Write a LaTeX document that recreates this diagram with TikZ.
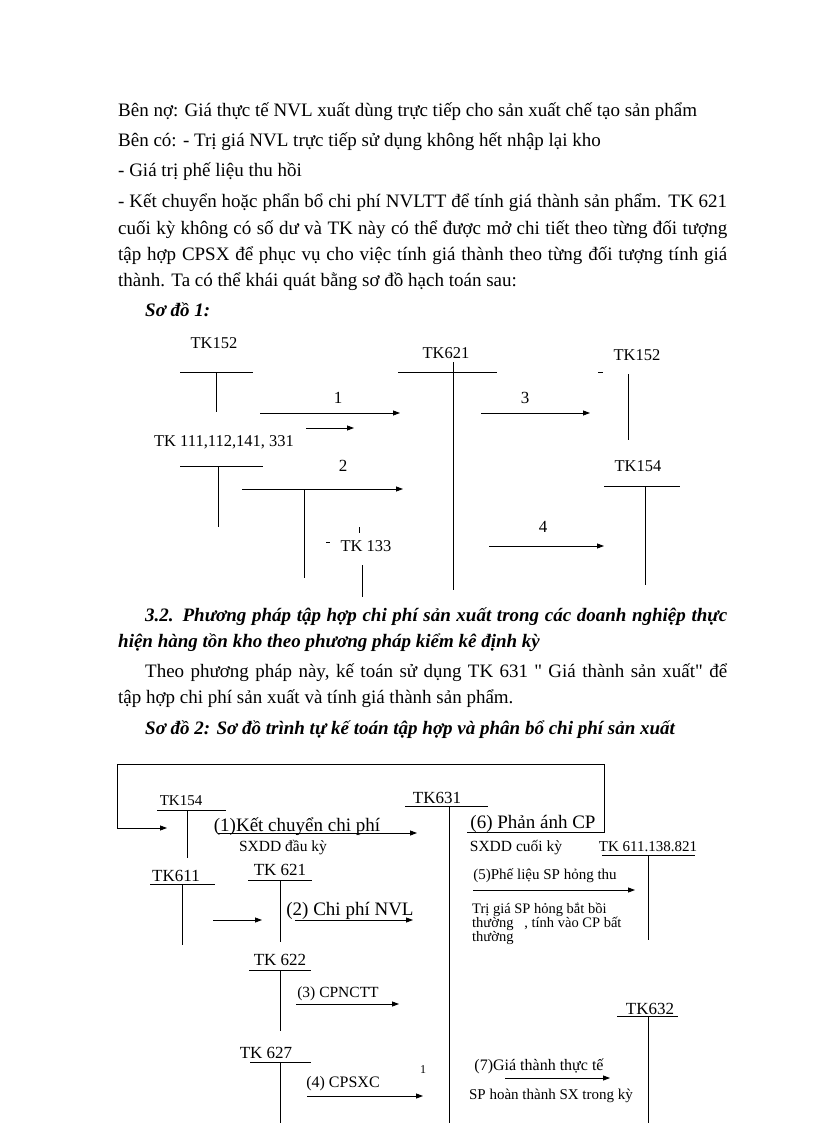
\documentclass[tikz,border=0pt]{standalone}
\usepackage{fontspec}
\setmainfont{Liberation Serif}
\newfontfamily\qfont{Liberation Serif}
\usetikzlibrary{arrows.meta}
\newcommand\fsz[1]{\fontsize{#1}{#1}\selectfont}
\newcommand\sq{{\qfont"}}
\tikzset{
  txt/.style={inner sep=0pt, anchor=base west, font=\fsz{19}},
  lbl/.style={inner sep=0pt, anchor=base},
  lblw/.style={inner sep=0pt, anchor=base west},
  acc/.style={line width=0.8pt},
  arr/.style={line width=0.8pt, -{Triangle[length=7pt,width=5pt]}},
}
\begin{document}
\begin{tikzpicture}[x=1pt,y=-1pt]
\useasboundingbox (0,0) rectangle (816,1123);
% ---------- text ----------
\node[txt] (p1) at (118,117) {Bên nợ: Giá thực tế NVL xuất dùng trực tiếp cho sản xuất chế tạo sản phẩm};
\node[txt] (p2) at (118,147) {Bên có: - Trị giá NVL trực tiếp sử dụng không hết nhập lại kho};
\node[txt] (p3) at (118,177) {- Giá trị phế liệu thu hồi};
\node[txt] (p4) at (118,208) {\makebox[609pt][s]{- Kết chuyển hoặc phẩn bổ chi phí NVLTT để tính giá thành sản phẩm. TK 621}};
\node[txt] (p5) at (118,234) {\makebox[609pt][s]{cuối kỳ không có số dư và TK này có thể được mở chi tiết theo từng đối tượng}};
\node[txt] (p6) at (118,260) {\makebox[609pt][s]{tập hợp CPSX để phục vụ cho việc tính giá thành theo từng đối tượng tính giá}};
\node[txt] (p7) at (118,286) {thành. Ta có thể khái quát bằng sơ đồ hạch toán sau:};
\node[txt] (s1) at (145,316) {\bfseries\itshape Sơ đồ 1:};
\node[txt] (h1) at (145,621) {\bfseries\itshape\makebox[582pt][s]{3.2. Phương pháp tập hợp chi phí sản xuất trong các doanh nghiệp thực}};
\node[txt] (h2) at (118,647) {\bfseries\itshape hiện hàng tồn kho theo phương pháp kiểm kê định kỳ};
\node[txt] (q1) at (145,677) {\makebox[582pt][s]{Theo phương pháp này, kế toán sử dụng TK 631 \sq{} Giá thành sản xuất\sq{} để}};
\node[txt] (q2) at (118,703) {tập hợp chi phí sản xuất và tính giá thành sản phẩm.};
\node[txt] (s2) at (145,734) {\bfseries\itshape Sơ đồ 2: Sơ đồ trình tự kế toán tập hợp và phân bổ chi phí sản xuất};

% ---------- diagram 1 ----------
\begin{scope}[font=\fsz{16.5}]
\node[lbl] (a152) at (214,348) {TK152};
\coordinate (a152l) at (180,372); \coordinate (a152r) at (253,372);
\coordinate (a152t) at (216,372); \coordinate (a152b) at (216,412);
\draw[acc] (a152l) -- (a152r); \draw[acc] (a152t) -- (a152b);

\coordinate (e1s) at (260,413); \coordinate (e1e) at (400,413);
\draw[arr] (e1s) -- (e1e);
\node[lbl,font=\fsz{17}] (n1) at (338,403) {1};
\coordinate (e0s) at (306,428); \coordinate (e0e) at (354,428);
\draw[arr] (e0s) -- (e0e);

\node[lbl] (a111) at (224,446) {TK 111,112,141, 331};
\coordinate (a111l) at (180,466); \coordinate (a111r) at (263,466);
\coordinate (a111t) at (218,466); \coordinate (a111b) at (218,527);
\draw[acc] (a111l) -- (a111r); \draw[acc] (a111t) -- (a111b);

\coordinate (e2s) at (242,489); \coordinate (e2e) at (403,489);
\draw[arr] (e2s) -- (e2e);
\node[lbl,font=\fsz{17}] (n2) at (343,471) {2};
\coordinate (e2j) at (304,489); \coordinate (e2b) at (304,578);
\draw[acc] (e2j) -- (e2b);

\node[lbl] (a621) at (446,358) {TK621};
\coordinate (a621l) at (398,372); \coordinate (a621r) at (497,372);
\coordinate (a621t) at (453,362); \coordinate (a621b) at (453,590);
\draw[acc] (a621l) -- (a621r); \draw[acc] (a621t) -- (a621b);

\node[lbl] (b152) at (637,360) {TK152};
\coordinate (b152d1) at (598,372); \coordinate (b152d2) at (603,372);
\draw[acc] (b152d1) -- (b152d2);
\coordinate (b152t) at (628,374); \coordinate (b152b) at (628,440);
\draw[acc] (b152t) -- (b152b);

\coordinate (e3s) at (481,413); \coordinate (e3e) at (590,413);
\draw[arr] (e3s) -- (e3e);
\node[lbl,font=\fsz{17}] (n3) at (525,403) {3};

\node[lbl] (b154) at (638,471) {TK154};
\coordinate (b154l) at (604,486); \coordinate (b154r) at (680,486);
\coordinate (b154t) at (645,486); \coordinate (b154b) at (645,585);
\draw[acc] (b154l) -- (b154r); \draw[acc] (b154t) -- (b154b);

\coordinate (e4s) at (489,546); \coordinate (e4e) at (604,546);
\draw[arr] (e4s) -- (e4e);
\node[lbl,font=\fsz{17}] (n4) at (543,532) {4};

\node[lbl] (a133) at (366,551) {TK 133};
\coordinate (a133d1) at (326,542); \coordinate (a133d2) at (330,542);
\draw[acc] (a133d1) -- (a133d2);
\coordinate (a133k1) at (359,527); \coordinate (a133k2) at (359,533);
\draw[line width=0.6pt] (a133k1) -- (a133k2);
\coordinate (a133t) at (362,565); \coordinate (a133b) at (362,597);
\draw[acc] (a133t) -- (a133b);
\end{scope}

% ---------- diagram 2 ----------
% feedback loop (6)
\coordinate (l6s) at (467,832); \coordinate (l6c1) at (604,832);
\coordinate (l6c2) at (604,764); \coordinate (l6c3) at (117,764);
\coordinate (l6c4) at (117,828); \coordinate (l6e) at (167,828);
\draw[arr] (l6s) -- (l6c1) -- (l6c2) -- (l6c3) -- (l6c4) -- (l6e);

\node[lbl,font=\fsz{15}] (c154) at (181,805) {TK154};
\coordinate (c154l) at (157,810); \coordinate (c154r) at (226,810);
\coordinate (c154t) at (187,810); \coordinate (c154b) at (187,858);
\draw[acc] (c154l) -- (c154r); \draw[acc] (c154t) -- (c154b);

\coordinate (f1s) at (218,833); \coordinate (f1e) at (417,833);
\node[lbl,font=\fsz{19}] (t1) at (297,831) {(1)Kết chuyển chi phí};
\draw[arr] (f1s) -- (f1e);
\node[lbl,font=\fsz{15.5}] (t1b) at (283,851) {SXDD đầu kỳ};

\node[lbl,font=\fsz{17}] (c631) at (437,803) {TK631};
\coordinate (c631l) at (405,806); \coordinate (c631r) at (488,806);
\coordinate (c631t) at (449,806); \coordinate (c631b) at (449,1123);
\draw[acc] (c631l) -- (c631r); \draw[acc] (c631t) -- (c631b);

\node[lbl,font=\fsz{17}] (c611) at (176,881) {TK611};
\coordinate (c611l) at (150,884); \coordinate (c611r) at (215,884);
\coordinate (c611t) at (182,884); \coordinate (c611b) at (182,945);
\draw[acc] (c611l) -- (c611r); \draw[acc] (c611t) -- (c611b);
\coordinate (f0s) at (213,920); \coordinate (f0e) at (262,920);
\draw[arr] (f0s) -- (f0e);

\node[lbl,font=\fsz{17}] (c621) at (280,875) {TK 621};
\coordinate (c621l) at (248,880); \coordinate (c621r) at (312,880);
\coordinate (c621t) at (280,880); \coordinate (c621b) at (280,942);
\draw[acc] (c621l) -- (c621r); \draw[acc] (c621t) -- (c621b);

\coordinate (f2s) at (295,920); \coordinate (f2e) at (413,920);
\node[lbl,font=\fsz{19}] (t2) at (350,915) {(2) Chi phí NVL};
\draw[arr] (f2s) -- (f2e);

\node[lbl,font=\fsz{17}] (c622) at (280,965) {TK 622};
\coordinate (c622l) at (249,970); \coordinate (c622r) at (311,970);
\coordinate (c622t) at (280,970); \coordinate (c622b) at (280,1031);
\draw[acc] (c622l) -- (c622r); \draw[acc] (c622t) -- (c622b);

\coordinate (f3s) at (296,1004); \coordinate (f3e) at (399,1004);
\node[lbl,font=\fsz{15.5}] (t3) at (338,997) {(3) CPNCTT};
\draw[arr] (f3s) -- (f3e);

\node[lbl,font=\fsz{17}] (c627) at (266,1058) {TK 627};
\coordinate (c627l) at (250,1062); \coordinate (c627r) at (311,1062);
\coordinate (c627t) at (280,1062); \coordinate (c627b) at (280,1123);
\draw[acc] (c627l) -- (c627r); \draw[acc] (c627t) -- (c627b);

\coordinate (f4s) at (307,1096); \coordinate (f4e) at (423,1096);
\node[lbl,font=\fsz{16}] (t4) at (343,1087) {(4) CPSXC};
\draw[arr] (f4s) -- (f4e);
\node[lbl,font=\fsz{12}] (one) at (423,1073) {1};

\node[lbl,font=\fsz{19}] (t6) at (533,828) {(6) Phản ánh CP};
\node[lbl,font=\fsz{15.5}] (t6b) at (516,851) {SXDD cuối kỳ};

\node[lbl,font=\fsz{15}] (c611b2) at (648,851) {TK 611.138.821};
\coordinate (c6xl) at (602,855); \coordinate (c6xr) at (695,855);
\coordinate (c6xt) at (648,855); \coordinate (c6xb) at (648,940);
\draw[acc] (c6xl) -- (c6xr); \draw[acc] (c6xt) -- (c6xb);

\node[lbl,font=\fsz{15}] (t5) at (545,879) {(5)Phế liệu SP hỏng thu};
\coordinate (f5s) at (473,890); \coordinate (f5e) at (635,890);
\draw[arr] (f5s) -- (f5e);
\node[lblw,font=\fsz{14.5}] (t5a) at (472,913) {Trị giá SP hỏng bắt bồi};
\node[lblw,font=\fsz{14.5}] (t5b) at (472,927) {thường\ \ \ , tính vào CP bất};
\node[lblw,font=\fsz{14.5}] (t5c) at (472,941) {thường};

\node[lbl,font=\fsz{17}] (c632) at (650,1014) {TK632};
\coordinate (c632l) at (617,1016); \coordinate (c632r) at (678,1016);
\coordinate (c632t) at (648,1016); \coordinate (c632b) at (648,1123);
\draw[acc] (c632l) -- (c632r); \draw[acc] (c632t) -- (c632b);

\node[lbl,font=\fsz{16}] (t7) at (539,1070) {(7)Giá thành thực tế};
\coordinate (f7s) at (505,1078); \coordinate (f7e) at (610,1078);
\draw[arr] (f7s) -- (f7e);
\node[lbl,font=\fsz{15}] (t7b) at (551,1099) {SP hoàn thành SX trong kỳ};
\end{tikzpicture}
\end{document}
